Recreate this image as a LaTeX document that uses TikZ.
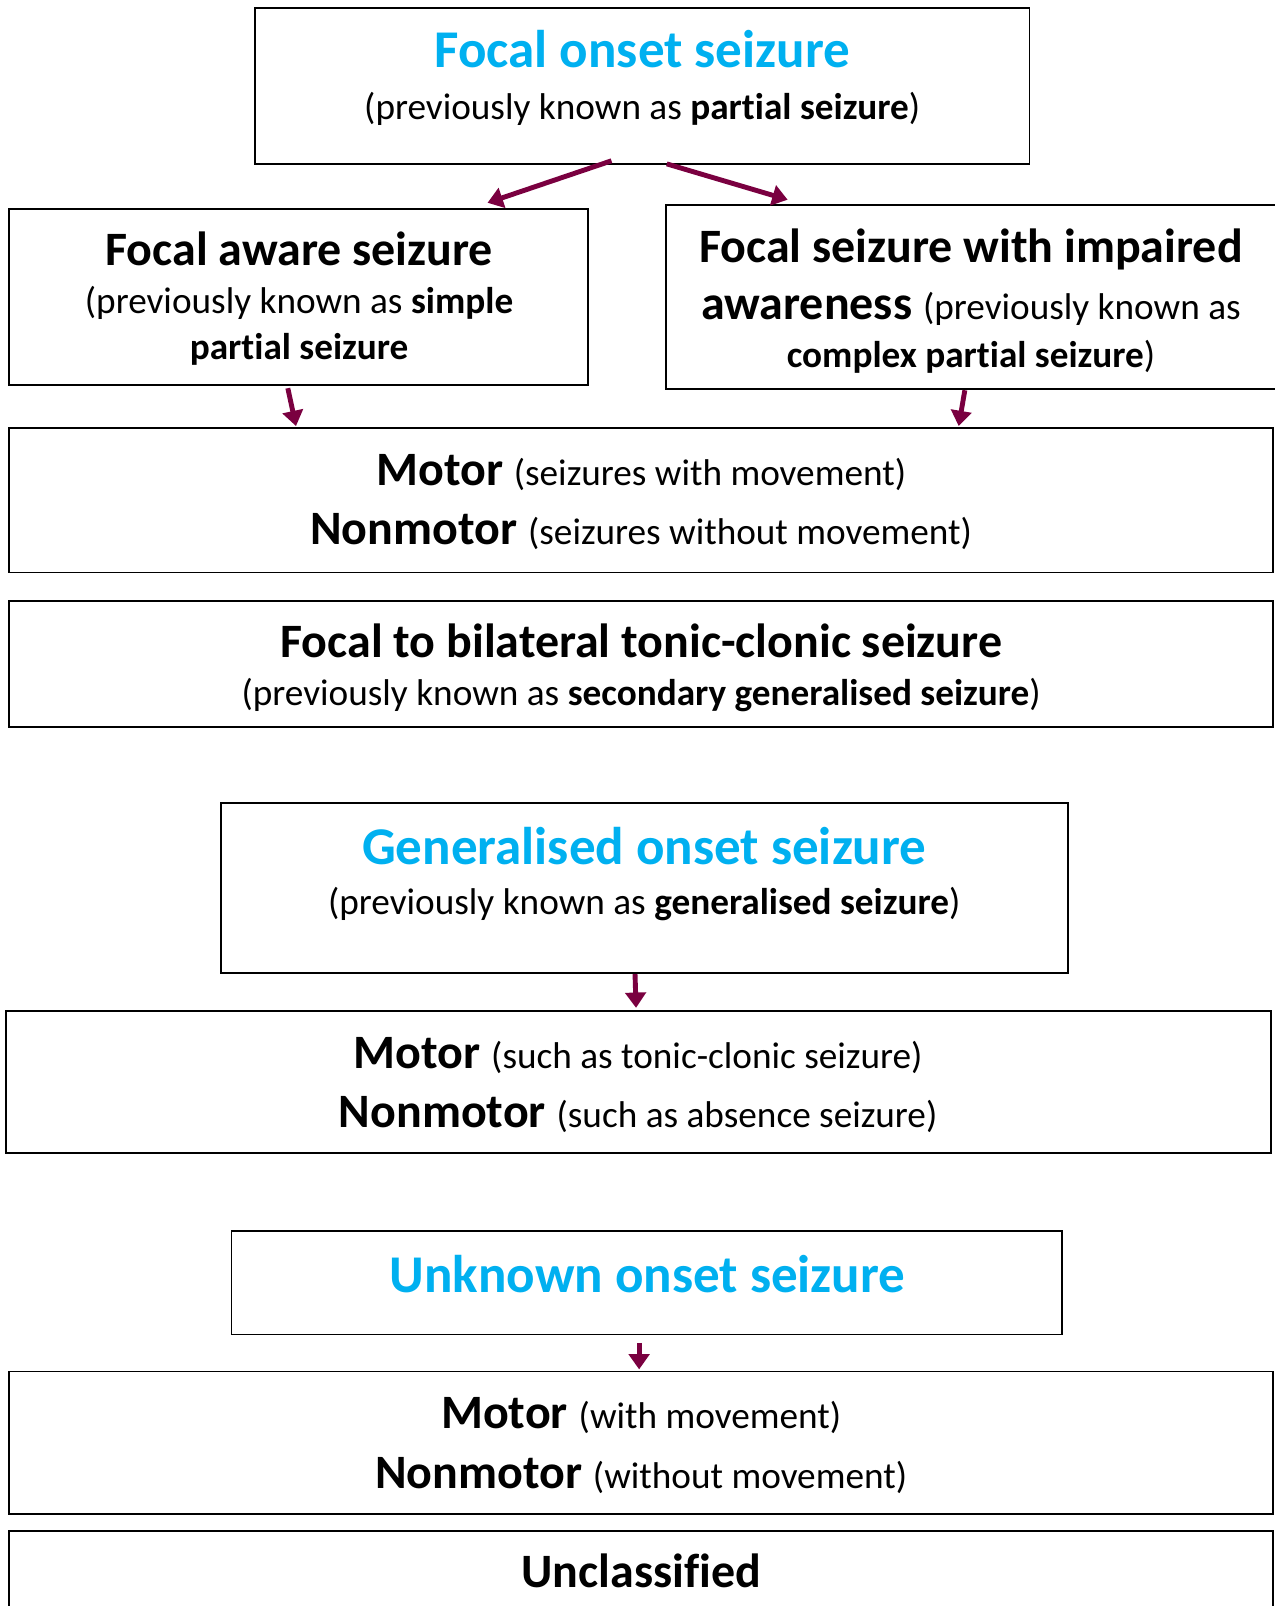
\documentclass[tikz,border=0pt]{standalone}
\usepackage{fontspec}
\setmainfont{Carlito}[RawFeature=-liga]
\usetikzlibrary{arrows.meta}
\definecolor{ttlcyan}{RGB}{0,176,240}
\definecolor{arrcol}{RGB}{122,0,64}
\newcommand\TitleFont{\fontsize{52}{60}\selectfont\bfseries\color{ttlcyan}}
\newcommand\HeadFont{\fontsize{47}{55}\selectfont\bfseries}
\newcommand\RegFont{\fontsize{36.5}{42}\selectfont}
\tikzset{
  box/.style={draw=black, line width=1.6pt, inner sep=0pt},
  txt/.style={anchor=base, inner sep=0pt},
  arr/.style={draw=arrcol, line width=4.8pt, -{Triangle[length=15pt,width=20pt]}}
}
\begin{document}
\begin{tikzpicture}[x=1bp,y=-1bp]
\useasboundingbox (0,0) rectangle (1244.8,1568);
% boxes
\draw[box] (249,8) rectangle (1005,160);
\node[inner sep=0pt] (onset) at (627,84) {};
\draw[box] (9,204) rectangle (574,376);
\node[inner sep=0pt] (aware) at (291,290) {};
\draw[box] (1244.8,200) -- (650,200) -- (650,380) -- (1244.8,380);
\node[inner sep=0pt] (impaired) at (948,290) {};
\draw[box] (9,418) rectangle (1243,559);
\node[inner sep=0pt] (motor1) at (626,488) {};
\draw[box] (9,587) rectangle (1243,710);
\node[inner sep=0pt] (bilat) at (626,648) {};
\draw[box] (216,784) rectangle (1043,950);
\node[inner sep=0pt] (gen) at (629,867) {};
\draw[box] (6,987) rectangle (1241,1126);
\node[inner sep=0pt] (motor2) at (623,1056) {};
\draw[box] (226,1202) rectangle (1037,1303);
\node[inner sep=0pt] (unknown) at (631,1252) {};
\draw[box] (9,1339) rectangle (1243,1478);
\node[inner sep=0pt] (motor3) at (626,1408) {};
\draw[box] (9,1568) -- (9,1495) -- (1243,1495) -- (1243,1568);
\node[inner sep=0pt] (uncl) at (626,1540) {};
% texts
\node[txt] (t1) at (627,66) {\TitleFont Focal onset seizure};
\node[txt] (t2) at (627,117) {\RegFont (previously known as \textbf{partial seizure})};
\node[txt] (t3) at (292,259) {\HeadFont Focal aware seizure};
\node[txt] (t4) at (292,306) {\RegFont (previously known as \textbf{simple}};
\node[txt] (t5) at (292,351) {\RegFont\bfseries partial seizure};
\node[txt] (t6) at (948,256) {\HeadFont Focal seizure with impaired};
\node[txt] (t7) at (948,312) {{\HeadFont awareness }\RegFont(previously known as};
\node[txt] (t8) at (948,359) {\RegFont\textbf{complex partial seizure})};
\node[txt] (t9) at (626,474) {{\HeadFont Motor }\RegFont(seizures with movement)};
\node[txt] (t10) at (626,532) {{\HeadFont Nonmotor }\RegFont(seizures without movement)};
\node[txt] (t11) at (626,642) {\HeadFont Focal to bilateral tonic-clonic seizure};
\node[txt] (t12) at (626,689) {\RegFont (previously known as \textbf{secondary generalised seizure})};
\node[txt] (t13) at (629,844) {\TitleFont Generalised onset seizure};
\node[txt] (t14) at (629,893) {\RegFont (previously known as \textbf{generalised seizure})};
\node[txt] (t15) at (623,1043) {{\HeadFont Motor }\RegFont(such as tonic-clonic seizure)};
\node[txt] (t16) at (623,1101) {{\HeadFont Nonmotor }\RegFont(such as absence seizure)};
\node[txt] (t17) at (632,1262) {\TitleFont Unknown onset seizure};
\node[txt] (t18) at (626,1395) {{\HeadFont Motor }\RegFont(with movement)};
\node[txt] (t19) at (626,1453) {{\HeadFont Nonmotor }\RegFont(without movement)};
\node[txt] (t20) at (626,1550) {\HeadFont Unclassified};
% arrow end points
\coordinate (a1s) at (597,157); \coordinate (a1e) at (476,198);
\coordinate (a2s) at (651,160); \coordinate (a2e) at (769,195);
\coordinate (a3s) at (281,379); \coordinate (a3e) at (289,416);
\coordinate (a4s) at (942,381); \coordinate (a4e) at (936,416);
\coordinate (a5s) at (620,951); \coordinate (a5e) at (621,984);
\coordinate (a6s) at (624,1311); \coordinate (a6e) at (624,1337);
\draw[arr] (a1s) -- (a1e);
\draw[arr] (a2s) -- (a2e);
\draw[arr] (a3s) -- (a3e);
\draw[arr] (a4s) -- (a4e);
\draw[arr] (a5s) -- (a5e);
\draw[arr] (a6s) -- (a6e);
\end{tikzpicture}
\end{document}
